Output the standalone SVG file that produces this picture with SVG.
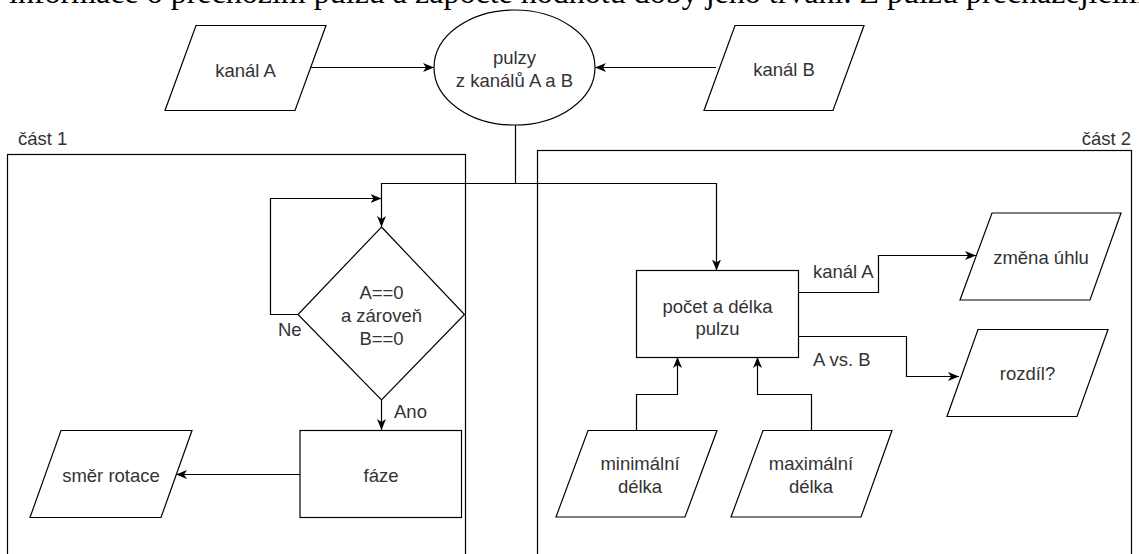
<svg xmlns="http://www.w3.org/2000/svg" width="1139" height="554" viewBox="0 0 1139 554">
  <defs>
    <marker id="arrow" markerUnits="userSpaceOnUse" markerWidth="12" markerHeight="10" viewBox="0 0 12 10" refX="11" refY="5" orient="auto">
      <path d="M0,0.5 L11,5 L0,9.5 L3,5 Z" fill="#000"/>
    </marker>
    <style>
      .shape { fill: #fff; stroke: #000; stroke-width: 1.2; }
      .frame { fill: none; stroke: #000; stroke-width: 1.2; }
      .edge { fill: none; stroke: #000; stroke-width: 1.2; }
      .arr { marker-end: url(#arrow); }
      text { font-family: "Liberation Sans", Arial, sans-serif; font-size: 18.5px; fill: #333; }
      .c { text-anchor: middle; }
      .body { font-family: "Liberation Serif", "Times New Roman", serif; font-size: 32px; fill: #000; }
    </style>
  </defs>

  <rect width="1139" height="554" fill="#fff"/>

  <!-- running paragraph line above the chart -->
  <text class="body" x="9" y="3">informace o přechozím pulzu a započte hodnotu doby jeho trvání. Z pulzu přecházejícím</text>

  <!-- section frames -->
  <g id="part1">
    <rect class="frame" x="7.5" y="154.5" width="458" height="420"/>
    <text x="18" y="145">část 1</text>
  </g>
  <g id="part2">
    <rect class="frame" x="537.5" y="150.5" width="594" height="420"/>
    <text x="1131" y="145" text-anchor="end">část 2</text>
  </g>

  <!-- connectors -->
  <g id="connectors">
    <path class="edge arr" d="M311,67.5 H434"/>
    <path class="edge arr" d="M716,67.5 H595"/>
    <path class="edge arr" d="M515.5,125 V183.5 H381.5 V227"/>
    <path class="edge arr" d="M515.5,183.5 H716.5 V270.5"/>
    <path class="edge arr" d="M298,314.5 H270.5 V198.5 H381.5"/>
    <path class="edge arr" d="M381.5,400 V430"/>
    <path class="edge arr" d="M300,474.5 H176"/>
    <path class="edge arr" d="M798,292.5 H878.5 V255.5 H976"/>
    <path class="edge arr" d="M798,336.5 H906.5 V376.5 H959"/>
    <path class="edge arr" d="M636.5,430 V394.5 H677.5 V357"/>
    <path class="edge arr" d="M811.5,430 V394.5 H757.5 V357"/>
    <text x="813" y="278">kanál A</text>
    <text x="813" y="366">A vs. B</text>
    <text x="278" y="336">Ne</text>
    <text x="394" y="418">Ano</text>
  </g>

  <g id="kanalA">
    <polygon class="shape" points="196,25.5 326,25.5 295,110.5 165,110.5"/>
    <text class="c" x="245.5" y="76.5">kanál A</text>
  </g>

  <g id="kanalB">
    <polygon class="shape" points="735,25.5 864,25.5 833,110.5 704,110.5"/>
    <text class="c" x="784" y="76">kanál B</text>
  </g>

  <g id="pulzy">
    <ellipse class="shape" cx="514.5" cy="67.5" rx="80.5" ry="57.5"/>
    <text class="c" x="514.5" y="64">pulzy</text>
    <text class="c" x="514.5" y="86.5">z kanálů A a B</text>
  </g>

  <g id="podminka">
    <polygon class="shape" points="381.5,227 464.5,314.5 381.5,400 298,314.5"/>
    <text class="c" x="381.5" y="299">A==0</text>
    <text class="c" x="381.5" y="322">a zároveň</text>
    <text class="c" x="381.5" y="345">B==0</text>
  </g>

  <g id="faze">
    <rect class="shape" x="300" y="430.5" width="161.5" height="87"/>
    <text class="c" x="381" y="482">fáze</text>
  </g>

  <g id="smer-rotace">
    <polygon class="shape" points="61,430.5 192,430.5 161,517.5 30,517.5"/>
    <text class="c" x="111" y="481.5">směr rotace</text>
  </g>

  <g id="pocet-delka">
    <rect class="shape" x="636.5" y="270.5" width="162" height="87"/>
    <text class="c" x="717.5" y="313">počet a délka</text>
    <text class="c" x="717.5" y="335">pulzu</text>
  </g>

  <g id="zmena-uhlu">
    <polygon class="shape" points="992,213 1121,213 1090,300 960,300"/>
    <text class="c" x="1041" y="264">změna úhlu</text>
  </g>

  <g id="rozdil">
    <polygon class="shape" points="978,329.5 1108,329.5 1077,416.5 947,416.5"/>
    <text class="c" x="1027.5" y="380">rozdíl?</text>
  </g>

  <g id="min-delka">
    <polygon class="shape" points="588,430.5 717,430.5 685,517 556,517"/>
    <text class="c" x="640" y="470">minimální</text>
    <text class="c" x="640" y="493">délka</text>
  </g>

  <g id="max-delka">
    <polygon class="shape" points="763,430.5 892,430.5 861,517 731,517"/>
    <text class="c" x="811" y="470">maximální</text>
    <text class="c" x="811" y="493">délka</text>
  </g>
</svg>
